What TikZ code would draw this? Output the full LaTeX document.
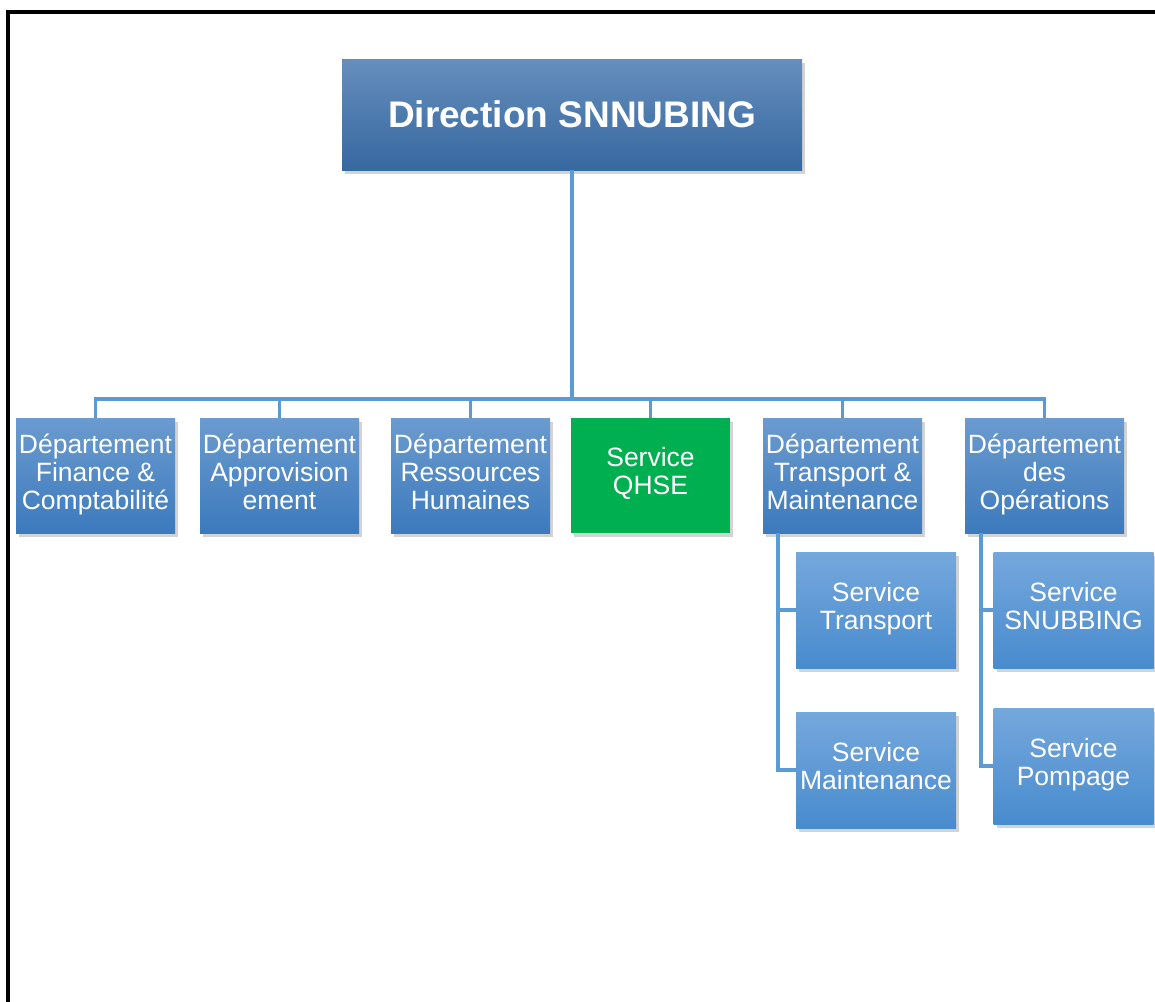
\documentclass[tikz,border=0pt]{standalone}
\usepackage{fontspec}
\setmainfont{Liberation Sans}
\usepackage{xcolor}
\usetikzlibrary{calc, shadows}

\definecolor{dirtop}{RGB}{101,142,188}
\definecolor{dirbot}{RGB}{55,104,160}
\definecolor{deptop}{RGB}{107,155,207}
\definecolor{depbot}{RGB}{60,122,189}
\definecolor{svctop}{RGB}{117,168,220}
\definecolor{svcbot}{RGB}{72,139,206}
\definecolor{qhsegreen}{RGB}{0,176,80}
\definecolor{linkblue}{RGB}{91,155,213}

\tikzset{
	box/.style={inner sep=0pt, align=center, text=white, draw=none,
		drop shadow={shadow xshift=3pt, shadow yshift=-4pt, opacity=0.35},
		font=\fontsize{26.5}{28}\selectfont},
	textbox/.style={box, execute at begin node=\rule{0pt}{31pt}, execute at end node=\strut},
	dept/.style={textbox, minimum width=159pt, minimum height=115pt, top color=deptop, bottom color=depbot},
	svc/.style={textbox, minimum width=160pt, minimum height=116pt, top color=svctop, bottom color=svcbot},
	link/.style={draw=linkblue, line width=3.5pt}
}

\begin{document}
\begin{tikzpicture}[x=1pt, y=1pt]
		%picture size and frame
		\useasboundingbox (0,0) rectangle (1155,-1001);
		\draw [line width=3.5pt, line cap=rect] (8,-1001) -- (8,-12) -- (1160,-12);
		
		%top of the chart
		\node [box, minimum width=460pt, minimum height=111pt, top color=dirtop, bottom color=dirbot,
			font=\fontsize{37}{40}\selectfont\bfseries] (dir) at (572,-114.5) {Direction SNNUBING};
		
		%departments
		\node [dept] (fin) at (95.5,-475.5) {Département\\Finance \&\\Comptabilité};
		\node [dept] (appro) at (279.5,-475.5) {Département\\Approvision\\ement};
		\node [dept] (rh) at (470.5,-475.5) {Département\\Ressources\\Humaines};
		\node [textbox, minimum width=159pt, minimum height=115pt, fill=qhsegreen] (qhse) at (650.5,-475.5) {Service\\QHSE};
		\node [dept] (trans) at (842.5,-475.5) {Département\\Transport \&\\Maintenance};
		\node [dept] (ops) at (1044.5,-475.5) {Département\\des\\Opérations};
		
		%services
		\node [svc] (strans) at (876,-610) {Service\\Transport};
		\node [svc] (smaint) at (876,-770) {Service\\Maintenance};
		\node [svc] (ssnub) at (1073.5,-610) {Service\\SNUBBING};
		\node [svc] (spomp) at (1073.5,-766) {Service\\Pompage};
		
		%links
		\foreach \dep in {fin, appro, rh, qhse, trans, ops}
			\draw [link] (dir.south) -- ++(0,-229) -| (\dep.north);
		
		\draw [link] ([xshift=15pt]trans.south west) |- (strans.west);
		\draw [link] ([xshift=15pt]trans.south west) |- (smaint.west);
		\draw [link] ([xshift=16pt]ops.south west) |- (ssnub.west);
		\draw [link] ([xshift=16pt]ops.south west) |- (spomp.west);
	\end{tikzpicture}
\end{document}
